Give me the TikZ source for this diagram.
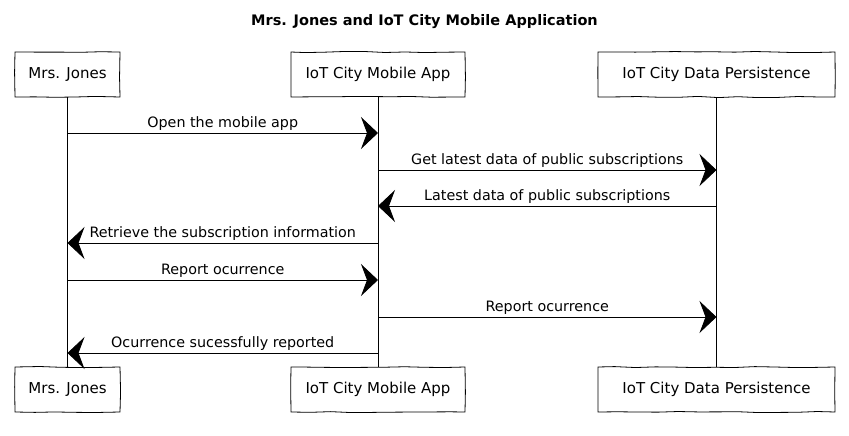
\documentclass[tikz,border=0pt]{standalone}
\usepackage{fontspec}
\setmainfont{DejaVu Sans}
\usetikzlibrary{positioning, arrows.meta, decorations.pathmorphing}

\begin{document}
\begin{tikzpicture}[x=1pt, y=1pt, on grid,
    font=\fontsize{15}{17}\selectfont,
    actor/.style={draw, line width=0.8pt, minimum height=45pt, inner sep=0pt,
      decorate, decoration={random steps, segment length=20pt, amplitude=0.6pt}},
    life/.style={line width=0.6pt},
    msg/.style={line width=0.8pt, -{Stealth[length=17pt, width=32pt, inset=6pt]}},
    lbl/.style={above, inner sep=2pt, font=\fontsize{14.3}{17}\selectfont}]
      \pgfmathsetseed{7}
      \useasboundingbox (0,0) rectangle (849,-436);
      \node[font=\fontsize{14.5}{17}\selectfont\bfseries] (title) at (424.5,-22) {Mrs. Jones and IoT City Mobile Application};
      \node[actor, minimum width=105pt] (mjt) at (67.5,-74.5) {Mrs. Jones};
      \node[actor, minimum width=174pt, right=310.5pt of mjt] (appt) {IoT City Mobile App};
      \node[actor, minimum width=237pt, right=338.5pt of appt] (dpt) {IoT City Data Persistence};
      \node[actor, minimum width=105pt, below=315pt of mjt] (mjb) {Mrs. Jones};
      \node[actor, minimum width=174pt, below=315pt of appt] (appb) {IoT City Mobile App};
      \node[actor, minimum width=237pt, below=315pt of dpt] (dpb) {IoT City Data Persistence};
      \draw[life] (mjt) -- (mjb);
      \draw[life] (appt) -- (appb);
      \draw[life] (dpt) -- (dpb);
      \coordinate (r1) at (0,-133);
      \coordinate (r2) at (0,-170);
      \coordinate (r3) at (0,-206);
      \coordinate (r4) at (0,-243);
      \coordinate (r5) at (0,-280);
      \coordinate (r6) at (0,-317);
      \coordinate (r7) at (0,-353);
      \path[msg]
        (mjt |- r1) edge node[lbl] {Open the mobile app} (appt |- r1)
        (appt |- r2) edge node[lbl] {Get latest data of public subscriptions} (dpt |- r2)
        (dpt |- r3) edge node[lbl] {Latest data of public subscriptions} (appt |- r3)
        (appt |- r4) edge node[lbl] {Retrieve the subscription information} (mjt |- r4)
        (mjt |- r5) edge node[lbl] {Report ocurrence} (appt |- r5)
        (appt |- r6) edge node[lbl] {Report ocurrence} (dpt |- r6)
        (appt |- r7) edge node[lbl] {Ocurrence sucessfully reported} (mjt |- r7);
\end{tikzpicture}
\end{document}
